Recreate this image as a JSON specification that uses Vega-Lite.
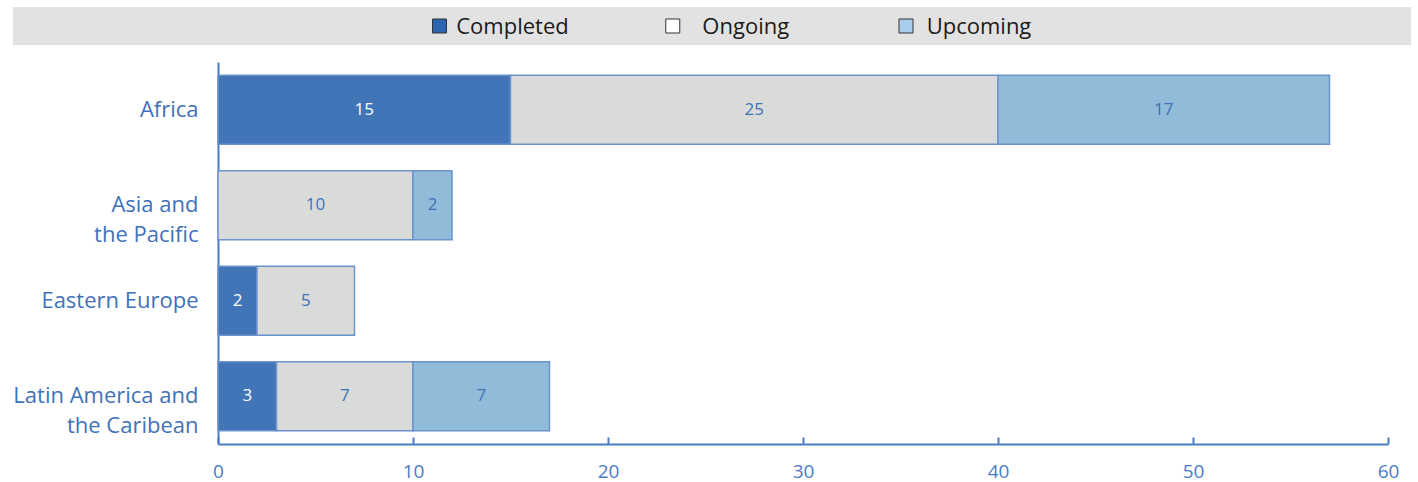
{
  "$schema": "https://vega.github.io/schema/vega-lite/v6.json",
  "padding": {"left": 12, "top": 7, "right": 0, "bottom": 12},
  "background": "white",
  "config": {"view": {"stroke": null}, "font": "Open Sans"},
  "spacing": 17,
  "datasets": {
    "projects": [
      {"region": "Africa", "status": "Completed", "count": 15},
      {"region": "Africa", "status": "Ongoing", "count": 25},
      {"region": "Africa", "status": "Upcoming", "count": 17},
      {"region": "Asia and the Pacific", "status": "Ongoing", "count": 10},
      {"region": "Asia and the Pacific", "status": "Upcoming", "count": 2},
      {"region": "Eastern Europe", "status": "Completed", "count": 2},
      {"region": "Eastern Europe", "status": "Ongoing", "count": 5},
      {"region": "Latin America and the Caribean", "status": "Completed", "count": 3},
      {"region": "Latin America and the Caribean", "status": "Ongoing", "count": 7},
      {"region": "Latin America and the Caribean", "status": "Upcoming", "count": 7}
    ],
    "legend": [
      {"status": "Completed"},
      {"status": "Ongoing"},
      {"status": "Upcoming"}
    ]
  },
  "resolve": {"scale": {"color": "independent"}},
  "vconcat": [
    {
      "width": 1170,
      "height": 38,
      "data": {"name": "legend"},
      "resolve": {"scale": {"x": "independent"}, "axis": {"x": "independent"}},
      "layer": [
        {
          "mark": {"type": "rect", "color": "#e2e2e2", "clip": false},
          "encoding": {
            "x": {"datum": -10.51, "type": "quantitative", "scale": {"domain": [0, 60], "nice": false, "zero": false}, "axis": null},
            "x2": {"datum": 61.18}
          }
        },
        {
          "encoding": {
            "x": {
              "field": "status",
              "type": "nominal",
              "scale": {"type": "point", "domain": ["Completed", "Ongoing", "Upcoming"], "padding": 0, "range": [294.5, 761]},
              "axis": null
            }
          },
          "layer": [
            {
              "mark": {"type": "point", "shape": "square", "filled": true, "size": 196, "stroke": "#333333", "strokeWidth": 1, "xOffset": -73, "opacity": 1},
              "encoding": {
                "fill": {
                  "field": "status",
                  "type": "nominal",
                  "scale": {"domain": ["Completed", "Ongoing", "Upcoming"], "range": ["#2e64b0", "#ffffff", "#a8cdef"]},
                  "legend": null
                }
              }
            },
            {
              "mark": {"type": "text", "fontSize": 22, "color": "#1a1a1a", "align": "center", "baseline": "middle", "dy": 1},
              "encoding": {
                "text": {"field": "status"}
              }
            }
          ]
        }
      ]
    },
    {
      "width": 1170,
      "height": 382,
      "data": {"name": "projects"},
      "encoding": {
        "y": {
          "field": "region",
          "type": "nominal",
          "sort": null,
          "scale": {"paddingInner": 0.28, "paddingOuter": 0.14},
          "axis": {
            "title": null,
            "ticks": false,
            "labelFontSize": 22,
            "labelColor": "#3f72b8",
            "labelPadding": 20,
            "labelLineHeight": 30,
            "labelLimit": 400,
            "domainColor": "#4a7cc4",
            "domainWidth": 2,
            "labelExpr": "datum.value == 'Asia and the Pacific' ? ['Asia and', 'the Pacific'] : datum.value == 'Latin America and the Caribean' ? ['Latin America and', 'the Caribean'] : datum.value"
          }
        }
      },
      "layer": [
        {
          "mark": {"type": "bar", "stroke": "#6d93cc", "strokeWidth": 1.5},
          "encoding": {
            "x": {
              "field": "count",
              "type": "quantitative",
              "stack": "zero",
              "scale": {"domain": [0, 60], "nice": false},
              "axis": {
                "title": null,
                "values": [0, 10, 20, 30, 40, 50, 60],
                "grid": false,
                "domainColor": "#4a7cc4",
                "domainWidth": 2,
                "tickColor": "#4a7cc4",
                "tickWidth": 2,
                "tickSize": -7,
                "labelPadding": 25,
                "labelFontSize": 19,
                "labelColor": "#4a7cc4",
                "labelFlush": false
              }
            },
            "color": {
              "field": "status",
              "type": "nominal",
              "scale": {"domain": ["Completed", "Ongoing", "Upcoming"], "range": ["#4274b8", "#d9dbd8", "#91bcd9"]},
              "legend": null
            },
            "order": {"field": "status"}
          }
        },
        {
          "mark": {"type": "text", "fontSize": 17, "align": "center", "baseline": "middle"},
          "encoding": {
            "x": {"field": "count", "type": "quantitative", "stack": "zero", "bandPosition": 0.5},
            "detail": {"field": "status"},
            "order": {"field": "status"},
            "text": {"field": "count", "type": "quantitative"},
            "color": {
              "condition": {"test": "datum.status === 'Completed'", "value": "#ffffff"},
              "value": "#3f72b8"
            }
          }
        }
      ]
    }
  ]
}
